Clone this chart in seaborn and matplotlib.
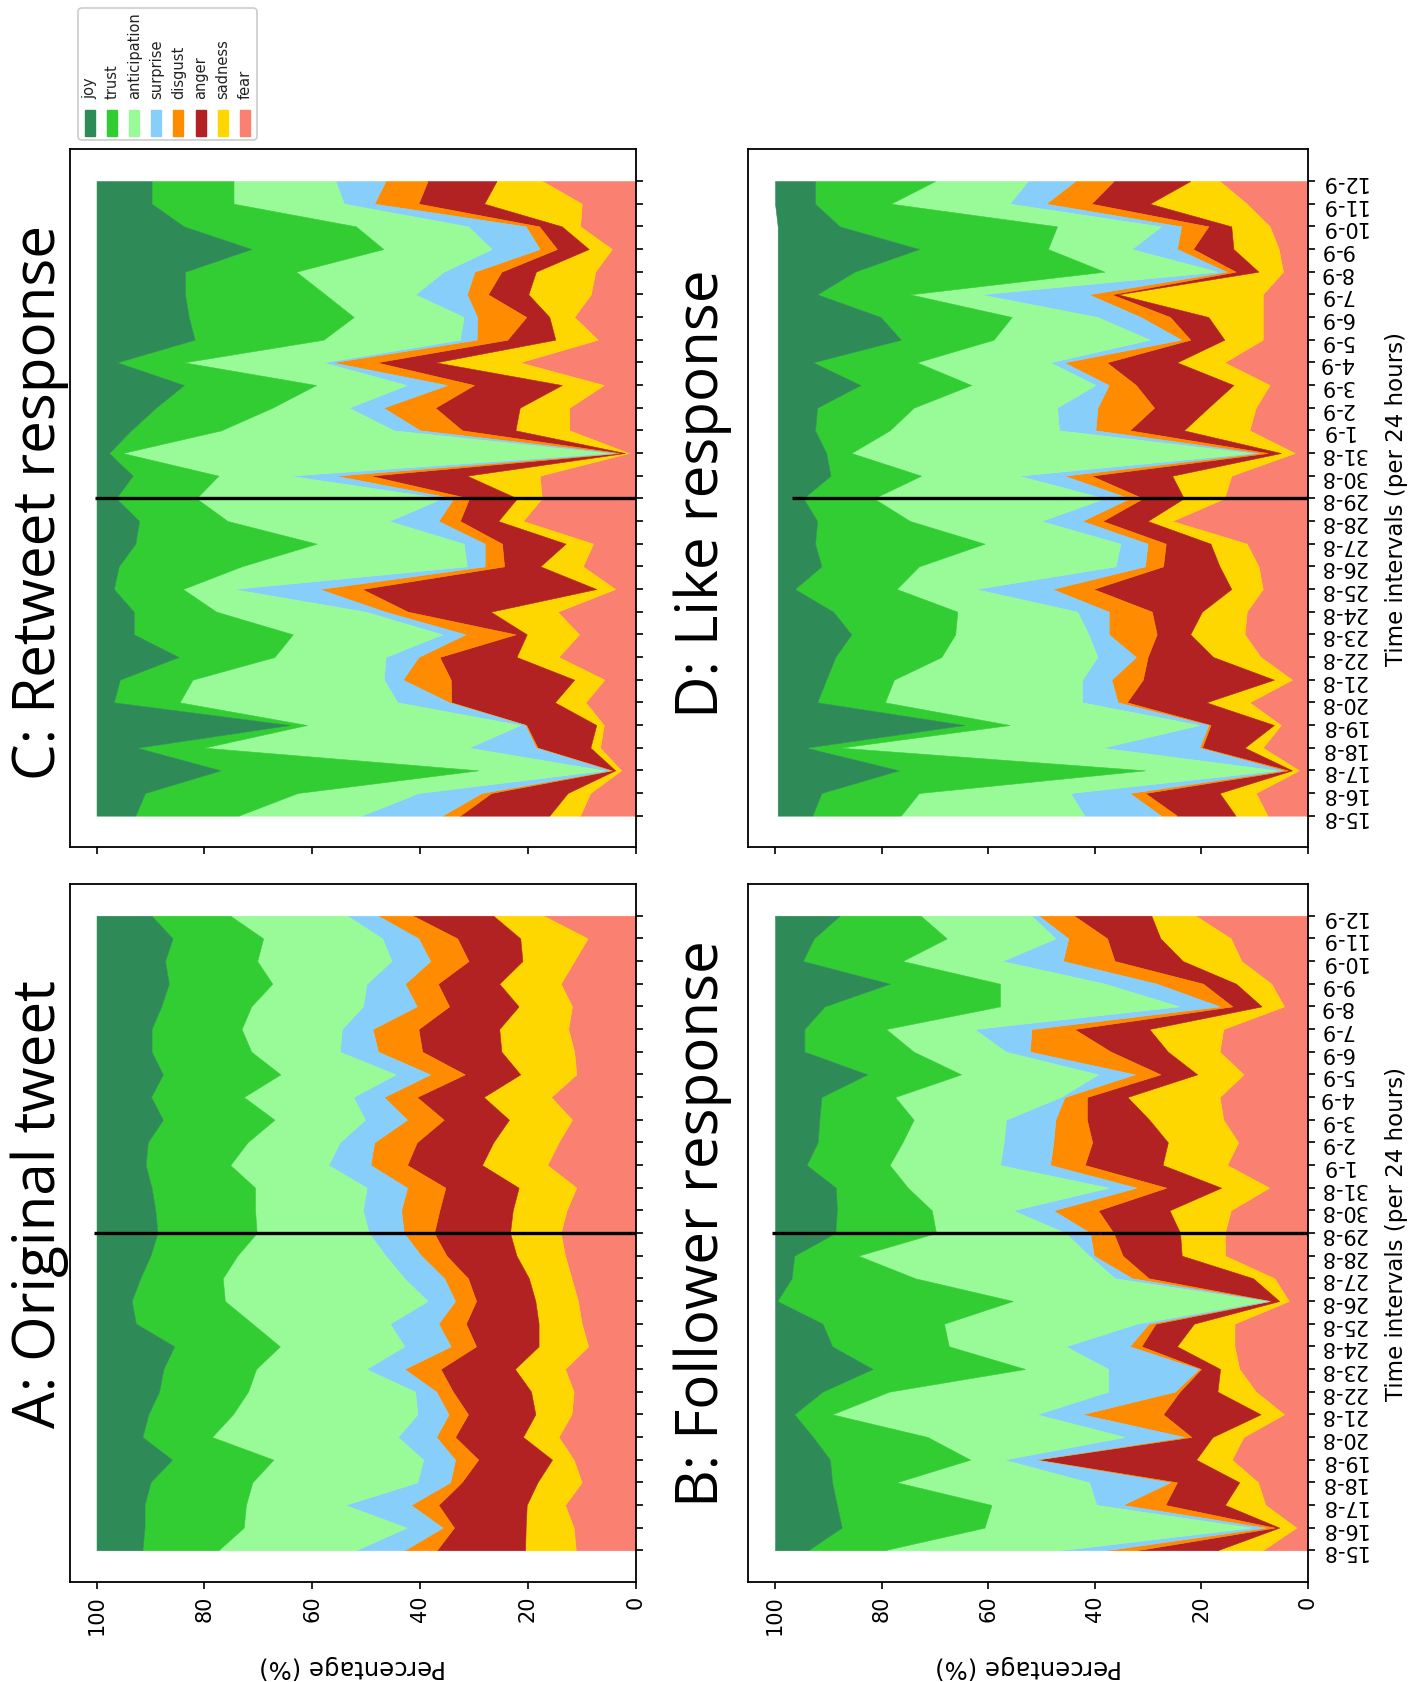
import numpy as np
import matplotlib
matplotlib.use("Agg")
import matplotlib.pyplot as plt
import seaborn as sns
from matplotlib.patches import FancyBboxPatch, Rectangle

# ---------------- data ----------------
dates = ["15-8", "16-8", "17-8", "18-8", "19-8", "20-8", "21-8", "22-8", "23-8",
         "24-8", "25-8", "26-8", "27-8", "28-8", "29-8", "30-8", "31-8", "1-9",
         "2-9", "3-9", "4-9", "5-9", "6-9", "7-9", "8-9", "9-9", "10-9", "11-9", "12-9"]
event_date = "29-8"

emotions = ["joy", "trust", "anticipation", "surprise", "disgust", "anger", "sadness", "fear"]
emotion_colors = ["seagreen", "limegreen", "palegreen", "lightskyblue",
                  "darkorange", "firebrick", "gold", "salmon"]

# A: Original tweet (percentage per day)
A_fear = [11.1, 11.5, 13.1, 10.0, 11.5, 14.3, 11.9, 11.5, 13.1, 8.8, 10.0, 10.7, 11.9, 13.1, 13.9, 12.8, 11.0, 16.4, 14.3, 11.8, 15.7, 11.0, 11.4, 12.5, 11.8, 13.9, 11.4, 8.9, 17.1]
A_sadness = [9.4, 8.9, 7.1, 8.2, 4.0, 6.6, 6.7, 7.9, 9.3, 9.2, 8.0, 7.9, 7.9, 9.0, 9.4, 10.0, 10.7, 12.1, 12.1, 11.7, 12.5, 10.4, 13.5, 12.8, 9.9, 11.4, 9.6, 12.5, 9.3]
A_anger = [16.4, 13.3, 16.4, 14.1, 13.7, 12.6, 12.5, 14.5, 13.8, 11.6, 13.5, 11.0, 11.3, 13.0, 14.1, 13.6, 13.6, 13.9, 14.2, 12.1, 12.4, 10.3, 14.7, 15.0, 12.9, 11.4, 10.0, 11.7, 14.9]
A_disgust = [6.0, 2.1, 5.1, 2.1, 4.3, 3.5, 3.6, 3.1, 6.7, 4.7, 5.1, 3.9, 4.4, 4.7, 5.6, 7.1, 7.1, 6.8, 7.9, 6.8, 6.1, 6.4, 8.2, 8.5, 6.0, 6.1, 7.1, 7.2, 6.5]
A_surprise = [9.0, 6.7, 12.2, 6.1, 5.9, 7.1, 5.8, 3.9, 7.1, 8.6, 9.0, 5.1, 7.4, 6.6, 6.5, 7.1, 7.5, 7.8, 6.4, 7.8, 5.7, 6.4, 7.1, 5.7, 10.0, 7.1, 7.2, 6.7, 5.7]
A_anticipation = [25.5, 30.2, 18.4, 30.6, 27.8, 34.5, 34.2, 31.0, 20.4, 23.1, 25.5, 37.6, 33.7, 27.5, 20.8, 20.0, 20.7, 18.2, 17.1, 16.8, 20.3, 21.4, 16.4, 18.6, 20.7, 17.5, 24.9, 22.1, 21.7]
A_trust = [14.1, 18.4, 18.8, 18.9, 18.8, 12.9, 15.7, 16.5, 17.2, 19.6, 21.6, 17.3, 15.3, 16.1, 18.4, 18.5, 19.2, 15.7, 18.5, 20.7, 17.2, 21.8, 18.5, 16.7, 16.7, 19.2, 17.1, 16.8, 14.6]
A_joy = [8.5, 8.9, 8.9, 10.0, 14.0, 8.5, 9.6, 11.6, 12.4, 14.4, 7.3, 6.5, 8.1, 10.0, 11.3, 10.9, 10.2, 9.1, 9.5, 12.3, 10.1, 12.3, 10.2, 10.2, 12.0, 13.4, 12.7, 14.1, 10.2]

# B: Follower response
B_fear = [8.5, 2.2, 8.0, 9.4, 14.3, 12.1, 4.5, 9.8, 12.9, 13.8, 13.8, 3.6, 6.3, 15.6, 15.6, 14.5, 7.3, 15.2, 13.1, 15.9, 16.6, 12.1, 16.6, 15.9, 4.5, 6.9, 12.5, 14.5, 21.1]
B_sadness = [8.5, 3.2, 7.6, 3.5, 6.7, 5.8, 4.4, 7.2, 3.6, 10.8, 7.6, 1.8, 4.0, 8.1, 8.4, 11.5, 9.0, 12.1, 13.2, 13.9, 17.3, 8.7, 9.7, 13.9, 4.2, 6.6, 11.0, 13.2, 8.3]
B_anger = [15.1, 0.9, 11.2, 11.7, 29.9, 4.0, 18.3, 7.1, 3.6, 6.7, 7.2, 1.7, 19.6, 11.1, 12.5, 13.4, 10.3, 14.6, 14.2, 11.7, 7.6, 6.9, 10.7, 14.1, 5.5, 6.2, 12.8, 10.0, 14.5]
B_disgust = [5.8, 1.7, 8.0, 1.3, 0.4, 1.3, 15.2, 0.9, 0.4, 2.2, 1.3, 0.2, 3.1, 5.4, 4.4, 8.4, 5.6, 6.5, 7.3, 5.9, 4.2, 4.8, 15.2, 8.0, 2.4, 8.7, 9.7, 7.3, 6.6]
B_surprise = [8.5, 2.7, 4.9, 15.2, 5.8, 11.2, 8.5, 12.5, 17.0, 12.0, 2.2, 0.7, 3.2, 0.9, 4.6, 7.6, 5.2, 9.4, 9.3, 9.3, 0.7, 6.9, 4.5, 10.7, 7.6, 9.7, 11.4, 2.4, 1.4]
B_anticipation = [33.1, 50.0, 19.7, 36.1, 6.3, 37.0, 38.4, 41.1, 15.6, 21.9, 36.2, 47.4, 37.5, 43.3, 24.3, 15.2, 37.7, 20.7, 19.0, 17.3, 31.1, 25.7, 17.3, 16.6, 33.6, 19.7, 18.7, 20.4, 20.8]
B_trust = [14.3, 26.8, 29.0, 12.1, 26.3, 21.5, 7.1, 12.5, 28.6, 21.9, 22.8, 44.2, 23.2, 12.0, 18.9, 17.8, 13.5, 15.6, 15.9, 17.7, 13.8, 17.6, 20.5, 15.3, 32.9, 20.7, 18.7, 24.9, 15.2]
B_joy = [6.2, 12.5, 11.6, 10.7, 10.3, 7.1, 3.6, 8.9, 18.3, 10.7, 8.9, 0.4, 3.1, 3.6, 11.3, 11.6, 11.4, 5.9, 8.0, 8.3, 8.7, 17.3, 5.5, 5.5, 9.3, 21.5, 5.2, 7.3, 12.1]

# C: Retweet response
C_fear = [10.3, 8.4, 2.7, 6.6, 5.9, 9.3, 5.8, 14.3, 10.5, 14.5, 3.8, 9.8, 7.9, 20.9, 17.4, 17.8, 1.3, 12.3, 12.3, 5.9, 21.5, 7.0, 11.4, 8.3, 7.5, 4.4, 10.3, 10.0, 17.3]
C_sadness = [5.7, 4.2, 1.1, 1.8, 1.4, 5.7, 5.6, 7.8, 9.7, 12.4, 3.5, 7.9, 5.1, 4.6, 4.6, 13.5, 0.7, 10.0, 9.2, 7.8, 15.6, 7.9, 4.6, 11.6, 11.0, 4.3, 3.4, 18.1, 8.5]
C_anger = [16.6, 14.2, 0.6, 9.8, 13.0, 19.2, 22.9, 14.3, 2.1, 15.4, 43.5, 6.7, 11.8, 7.1, 8.9, 18.0, 1.1, 9.9, 15.7, 16.3, 11.0, 8.9, 4.3, 7.5, 6.4, 5.9, 4.2, 12.2, 12.8]
C_disgust = [3.3, 1.8, 0.4, 0.3, 0.2, 0.4, 8.9, 3.9, 9.3, 4.2, 7.9, 3.6, 3.2, 4.0, 2.9, 6.4, 0.7, 7.8, 9.6, 5.0, 8.2, 5.7, 9.1, 3.9, 5.0, 3.2, 2.5, 8.2, 7.8]
C_surprise = [15.0, 11.7, 1.1, 12.5, 0.9, 9.6, 3.5, 6.1, 4.3, 3.6, 16.0, 3.3, 3.9, 9.2, 2.1, 8.5, 1.4, 4.9, 6.4, 7.5, 1.7, 3.1, 2.5, 9.6, 5.7, 8.9, 10.7, 5.6, 9.3]
C_anticipation = [22.8, 22.4, 23.3, 49.1, 39.6, 40.4, 35.5, 20.6, 27.7, 27.7, 9.3, 41.8, 27.3, 29.9, 45.6, 13.2, 90.0, 32.0, 14.2, 16.8, 25.8, 25.3, 20.4, 16.7, 27.4, 20.1, 20.8, 20.5, 18.9]
C_trust = [19.1, 28.3, 47.8, 12.4, 3.2, 12.2, 13.5, 17.8, 29.5, 15.3, 12.8, 22.8, 33.6, 16.4, 14.9, 15.9, 2.5, 16.7, 21.6, 24.5, 12.4, 23.9, 30.6, 26.0, 20.6, 24.5, 31.9, 15.2, 15.2]
C_joy = [7.2, 9.0, 23.0, 7.5, 35.8, 3.2, 4.3, 15.2, 6.9, 6.9, 3.2, 4.1, 7.2, 7.9, 3.6, 6.7, 2.3, 6.4, 11.0, 16.2, 3.8, 18.2, 17.1, 16.4, 16.4, 28.7, 16.2, 10.2, 10.2]

# D: Like response
D_fear = [7.6, 9.8, 1.7, 8.5, 5.1, 11.0, 3.0, 8.9, 11.9, 11.5, 8.5, 9.3, 11.5, 25.5, 15.7, 14.4, 2.5, 11.0, 9.8, 7.2, 15.7, 8.5, 8.5, 8.5, 4.7, 5.5, 7.2, 11.5, 16.6]
D_sadness = [6.0, 6.8, 1.3, 3.4, 1.3, 8.1, 3.4, 8.9, 10.2, 8.4, 5.9, 7.3, 6.8, 4.6, 7.6, 11.1, 2.6, 12.3, 8.9, 6.8, 8.9, 7.2, 10.2, 27.2, 4.6, 8.5, 7.2, 18.2, 5.5]
D_anger = [11.0, 14.0, 0.8, 8.0, 11.9, 14.9, 24.6, 12.3, 6.3, 9.4, 25.9, 10.6, 8.4, 8.5, 7.7, 15.2, 2.5, 10.2, 10.2, 18.3, 13.2, 6.4, 7.2, 1.2, 4.3, 7.6, 4.3, 11.0, 14.4]
D_disgust = [3.0, 2.9, 0.9, 0.5, 0.4, 1.7, 5.9, 2.2, 9.0, 8.1, 7.7, 3.4, 3.4, 3.8, 2.5, 5.1, 1.7, 6.4, 10.6, 5.1, 8.0, 1.7, 5.5, 4.3, 1.7, 3.0, 5.1, 8.5, 7.2]
D_surprise = [14.4, 11.1, 1.2, 18.2, 1.7, 6.7, 5.5, 7.2, 3.8, 5.9, 14.4, 5.5, 5.1, 7.7, 4.7, 8.5, 1.3, 6.8, 7.6, 2.5, 2.6, 5.9, 8.1, 20.3, 1.7, 8.5, 3.8, 6.8, 8.9]
D_anticipation = [34.4, 28.4, 24.7, 49.2, 35.6, 37.0, 35.3, 29.3, 25.0, 22.5, 14.8, 36.9, 25.5, 24.6, 43.3, 18.3, 75.1, 31.8, 26.9, 23.3, 25.0, 29.3, 16.1, 13.2, 21.2, 15.7, 19.5, 22.3, 17.4]
D_trust = [16.6, 18.3, 46.2, 6.4, 8.5, 12.7, 12.7, 19.9, 19.5, 23.3, 19.1, 18.3, 31.8, 17.4, 13.2, 17.0, 4.7, 14.0, 18.1, 20.8, 19.5, 17.4, 24.6, 17.4, 46.9, 24.2, 40.8, 14.2, 22.5]
D_joy = [6.5, 8.2, 22.7, 5.3, 35.0, 7.4, 9.1, 10.8, 13.8, 10.4, 3.2, 8.2, 7.0, 7.4, 4.8, 9.9, 9.1, 7.0, 7.4, 15.5, 6.6, 23.1, 19.3, 7.4, 14.4, 26.5, 11.6, 7.5, 7.5]

panel_titles = ["A: Original tweet", "B: Follower response", "C: Retweet response", "D: Like response"]
event_line_extent = [100.5, 100.5, 100.2, 96.8]
pct_ticks = [0, 20, 40, 60, 80, 100]

# ---------------- build tables ----------------
panel_data = [
    dict(zip(emotions, [A_joy, A_trust, A_anticipation, A_surprise, A_disgust, A_anger, A_sadness, A_fear])),
    dict(zip(emotions, [B_joy, B_trust, B_anticipation, B_surprise, B_disgust, B_anger, B_sadness, B_fear])),
    dict(zip(emotions, [C_joy, C_trust, C_anticipation, C_surprise, C_disgust, C_anger, C_sadness, C_fear])),
    dict(zip(emotions, [D_joy, D_trust, D_anticipation, D_surprise, D_disgust, D_anger, D_sadness, D_fear])),
]
color_of = dict(zip(emotions, emotion_colors))

# ---------------- style ----------------
sns.set_theme(style="ticks")
plt.rcParams["font.family"] = ["DejaVu Sans"]
plt.rcParams["axes.edgecolor"] = "black"

W, H = 1428, 1683
fig = plt.figure(figsize=(W / 100, H / 100), dpi=100)
fig.patch.set_facecolor("white")


def add_ax(left, top, right, bottom):
    return fig.add_axes([left / W, 1 - bottom / H, (right - left) / W, (bottom - top) / H])


# (left, top, right, bottom) in pixels, show date labels, show pct labels
layout = [
    ((69.6, 885.0, 635.6, 1583.0), False, True),    # A
    ((748.4, 885.0, 1308.0, 1583.0), True, True),   # B
    ((69.6, 150.3, 635.6, 848.4), False, False),    # C
    ((748.4, 150.3, 1308.0, 848.4), True, False),   # D
]
title_pos = [(40, 1204), (703, 1224), (40, 502), (703, 494)]

y = np.arange(len(dates))
stack_order = emotions[::-1]  # fear at the baseline

for k, (box, show_dates, show_pct) in enumerate(layout):
    ax = add_ax(*box)
    data = panel_data[k]
    base = np.zeros(len(dates))
    for name in stack_order:
        vals = np.asarray(data[name], dtype=float)
        ax.fill_betweenx(y, base, base + vals, color=color_of[name],
                         linewidth=0.4, edgecolor=color_of[name])
        base = base + vals

    ax.hlines(dates.index(event_date), 0, event_line_extent[k], color="black", lw=2.4, zorder=5)

    ax.set_xlim(105, 0)
    ax.set_ylim(-1.4, len(dates) - 1 + 1.4)
    ax.set_facecolor("white")
    for sp in ax.spines.values():
        sp.set_visible(True)
        sp.set_color("black")
        sp.set_linewidth(1.3)

    ax.set_yticks(y)
    ax.yaxis.tick_right()
    ax.set_yticklabels(dates if show_dates else [])
    ax.tick_params(axis="y", which="major", left=False, right=True, direction="out",
                   length=5, width=1.2, labelsize=15, labelrotation=180, pad=3,
                   labelright=show_dates, labelleft=False, colors="black")
    for lbl in ax.get_yticklabels():
        lbl.set_va("center")

    ax.set_xticks(pct_ticks)
    ax.set_xticklabels([str(t) for t in pct_ticks] if show_pct else [])
    ax.tick_params(axis="x", which="major", bottom=True, top=False, direction="out",
                   length=5, width=1.2, labelsize=15, labelrotation=90, pad=4,
                   labelbottom=show_pct, colors="black")
    ax.grid(False)

    if show_pct:
        ax.set_xlabel("Percentage (%)", fontsize=17.5, rotation=180, color="black")
        ax.xaxis.label.set_va("center")
        ax.xaxis.set_label_coords(0.5, -(1667 - box[3]) / (box[3] - box[1]))
    if show_dates:
        ax.yaxis.set_label_position("right")
        ax.set_ylabel("Time intervals (per 24 hours)", fontsize=16.5, color="black")
        ax.yaxis.label.set(rotation=90, va="center", ha="center", rotation_mode="default")
        ax.yaxis.set_label_coords((1396 - box[0]) / (box[2] - box[0]), 0.5)

    tx, ty = title_pos[k]
    fig.text(tx / W, 1 - ty / H, panel_titles[k], rotation=90, ha="center", va="center",
             fontsize=42, color="black", family=["Open Sans", "DejaVu Sans"])

# ---------------- legend (rotated layout) ----------------
lx0, ly0, lx1, ly1 = 76, 7, 259, 143
lax = fig.add_axes([lx0 / W, 1 - ly1 / H, (lx1 - lx0) / W, (ly1 - ly0) / H])
lax.set_xlim(lx0, lx1)
lax.set_ylim(ly1, ly0)
lax.axis("off")
lax.add_patch(FancyBboxPatch((lx0 + 2, ly0 + 2), lx1 - lx0 - 4, ly1 - ly0 - 4,
                             boxstyle="round,pad=0,rounding_size=4",
                             fc="white", ec="#cccccc", lw=1.2))
for i, name in enumerate(emotions):
    cx = 90 + i * 22.1
    lax.add_patch(Rectangle((cx - 5, 111), 10, 26, color=color_of[name]))
    lax.text(cx, 99, name, rotation=90, ha="center", va="bottom", fontsize=10.5, color="#222222")

fig.savefig("out.png", dpi=100)
